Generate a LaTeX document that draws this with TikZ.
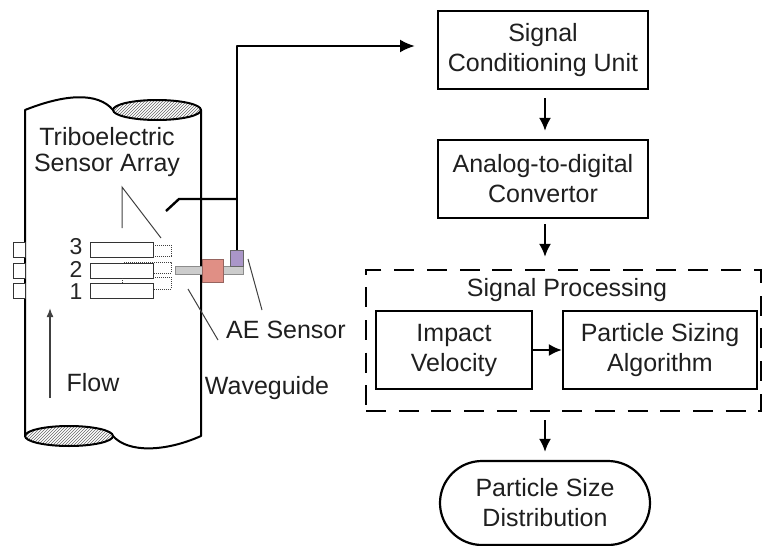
\documentclass[tikz,border=0pt]{standalone}
\usepackage{fontspec}
\setmainfont{Liberation Sans}
\usetikzlibrary{patterns,arrows.meta}
\definecolor{salmon}{RGB}{224,143,133}
\definecolor{salmonline}{RGB}{150,100,95}
\definecolor{lilac}{RGB}{170,150,200}
\tikzset{
 box/.style={draw,line width=2.2pt,align=center,font=\fontsize{25}{30}\selectfont,inner sep=0pt,text=black!88},
 lbl/.style={align=center,font=\fontsize{25}{25.5}\selectfont,inner sep=0pt,text=black!88},
 num/.style={font=\fontsize{23}{23}\selectfont,inner sep=0pt,text=black!85},
 flowarrow/.style={line width=2.2pt,-{Latex[length=13pt,width=12pt]}},
 wire/.style={line width=2.4pt,line join=round},
 pipe/.style={line width=2pt,line join=round},
 thin line/.style={line width=1pt,draw=black!75},
 sensor/.style={draw=black!80,line width=1pt,fill=white},
 dots/.style={densely dotted,line width=1pt,draw=black!75},
 hatch/.style={pattern=north east lines,pattern color=black!60}
}
\begin{document}
\begin{tikzpicture}[x=1pt,y=-1pt]
\useasboundingbox (0,0) rectangle (763,546);
% pipe
\draw[pipe] (113,110) .. controls (98,92) and (65,94) .. (25,110) -- (25,436);
\draw[pipe] (201,110) -- (201,436) .. controls (165,452) and (128,453) .. (113,436);
\draw[pipe,hatch] (157,110) ellipse [x radius=44,y radius=10];
\draw[pipe,hatch] (69,436) ellipse [x radius=44,y radius=10];
% tabs and sensors
\foreach \y in {242,263,283}{
 \draw[sensor] (13,\y) rectangle (25,\y+15);
 \draw[sensor] (90,\y) rectangle (153,\y+15);
}
\draw[dots] (153,245) -- (171,245) -- (171,256) -- (153,256);
\draw[dots] (124,262) -- (171,262) -- (171,273) -- (153,273);
\draw[dots] (122,278) -- (122,283);
\draw[dots] (153,277) -- (171,277) -- (171,289) -- (153,289);
% waveguide
\node[draw=black!45,fill=black!20,line width=.8pt,minimum width=68pt,minimum height=7.5pt,inner sep=0pt] (wg) at (209,270.5) {};
\node[draw=salmonline,fill=salmon,line width=.8pt,minimum width=21pt,minimum height=23pt,inner sep=0pt] (pink) at (213,270.5) {};
\node[draw=black!60,fill=lilac,line width=.8pt,minimum width=13pt,minimum height=16pt,inner sep=0pt] (ae) at (236.5,258) {};
% labels
\node[lbl] (tsa) at (107,152) {Triboelectric\\Sensor Array};
\node[num] (n3) at (76,247) {3};
\node[num] (n2) at (76,269) {2};
\node[num] (n1) at (76,292) {1};
\node[lbl] (flow) at (93,383) {Flow};
\node[lbl] (wgl) at (267,388) {Waveguide};
\node[lbl] (ael) at (286,330) {AE Sensor};
\coordinate (l1) at (122,228); \coordinate (l2) at (122,187); \coordinate (l3) at (161,238);
\draw[thin line] (l1) -- (l2) -- (l3);
\coordinate (a1) at (248,259); \coordinate (a2) at (262,310);
\draw[thin line] (a1) -- (a2);
\coordinate (w1) at (188,289); \coordinate (w2) at (218,340);
\draw[thin line] (w1) -- (w2);
\coordinate (f1) at (50,398); \coordinate (f2) at (50,308);
\draw[line width=1.6pt,draw=black!75,-{Latex[length=9pt,width=7pt]}] (f1) -- (f2);
% right boxes
\node[box,minimum width=210pt,minimum height=78pt] (scu) at (543,50) {Signal\\Conditioning Unit};
\node[box,minimum width=210pt,minimum height=78pt] (adc) at (543,179) {Analog-to-digital\\Convertor};
\node[draw,dash pattern=on 20pt off 12.7pt,line width=2.2pt,minimum width=395pt,minimum height=141pt,inner sep=0pt] (sp) at (563.5,340.5) {};
\node[lbl] (spl) at (567,290) {Signal Processing};
\node[box,minimum width=156pt,minimum height=78pt] (iv) at (454,350) {Impact\\Velocity};
\node[box,minimum width=194pt,minimum height=78pt] (psa) at (660,350) {Particle Sizing\\Algorithm};
\node[box,rounded corners=42pt,minimum width=210pt,minimum height=84pt] (psd) at (545,503) {Particle Size\\Distribution};
% wires
\coordinate (s1) at (237,250); \coordinate (s2) at (237,46); \coordinate (s3) at (415,46);
\draw[wire,-{Latex[length=15pt,width=13pt]}] (s1) -- (s2) -- (s3);
\coordinate (t1) at (237,199); \coordinate (t2) at (179,199); \coordinate (t3) at (166,211);
\draw[wire] (t1) -- (t2) -- (t3);
\draw[flowarrow,shorten <=8pt,shorten >=8pt] (scu.south -| psd) -- (adc.north -| psd);
\draw[flowarrow,shorten <=5pt,shorten >=12pt] (adc.south -| psd) -- (sp.north -| psd);
\draw[flowarrow] (iv) -- (psa);
\draw[flowarrow,shorten <=8pt,shorten >=8pt] (sp.south -| psd) -- (psd.north);
\end{tikzpicture}
\end{document}
